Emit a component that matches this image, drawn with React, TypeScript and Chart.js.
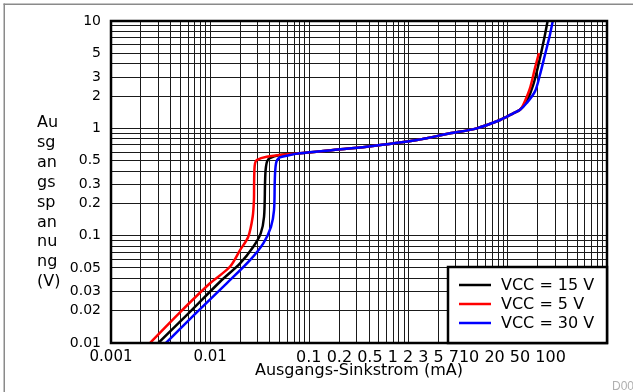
import React, { useEffect, useRef } from 'react';
import { Chart, registerables } from 'chart.js';

Chart.register(...registerables);

const FONT = "'DejaVu Sans', 'Liberation Sans', sans-serif";

const seriesLabels = ['VCC = 15 V', 'VCC = 5 V', 'VCC = 30 V'];
const seriesColors = ['#000000', '#ff0000', '#0000ff'];

// VCC = 15 V (black)
const sinkCurrent15 = [0.003, 0.00626, 0.01256, 0.02, 0.0272, 0.0323, 0.0349, 0.0357, 0.036, 0.0365, 0.0374, 0.0394, 0.0505, 0.0804, 0.174, 0.378, 1.21, 2.61, 4.86, 8.35, 11.36, 13.27, 15.5, 18.07, 21.1, 23.7, 25.2];
const outVoltage15 = [0.01, 0.0195, 0.0372, 0.0552, 0.0788, 0.105, 0.15, 0.307, 0.38, 0.439, 0.49, 0.525, 0.564, 0.585, 0.628, 0.674, 0.778, 0.898, 1.0, 1.195, 1.38, 1.49, 1.785, 2.55, 4.52, 7.45, 10];

// VCC = 5 V (red)
const sinkCurrent5 = [0.00247, 0.00496, 0.00996, 0.0158, 0.02, 0.0242, 0.0268, 0.0276, 0.0277, 0.0279, 0.0283, 0.0294, 0.0371, 0.0637, 0.0804, 0.174, 0.378, 1.21, 2.61, 4.86, 8.35, 11.36, 13.27, 14.33, 16.74, 18.8, 20.6];
const outVoltage5 = [0.01, 0.0193, 0.036, 0.0513, 0.0734, 0.0977, 0.15, 0.215, 0.3, 0.409, 0.47, 0.506, 0.544, 0.576, 0.585, 0.628, 0.674, 0.778, 0.898, 1.0, 1.195, 1.38, 1.49, 1.66, 2.37, 3.65, 5.03];

// VCC = 30 V (blue)
const sinkCurrent30 = [0.00358, 0.00731, 0.01466, 0.0252, 0.0343, 0.041, 0.044, 0.0447, 0.0452, 0.0461, 0.0475, 0.0505, 0.0637, 0.0804, 0.174, 0.378, 1.21, 2.61, 4.86, 8.35, 11.36, 13.27, 15.5, 18.8, 21.1, 23.7, 26.6, 28.4];
const outVoltage30 = [0.01, 0.0193, 0.036, 0.0592, 0.0848, 0.121, 0.173, 0.307, 0.4, 0.472, 0.51, 0.537, 0.564, 0.585, 0.628, 0.674, 0.778, 0.898, 1.0, 1.195, 1.38, 1.49, 1.72, 2.21, 3.16, 4.85, 7.45, 10];

const xMin = 0.001;
const xMax = 100;
const yMin = 0.01;
const yMax = 10;

const xTickValues = [0.001, 0.01, 1.68];
const xTickLabels = ['0.001', '0.01', '0.1 0.2 0.5 1 2 3 5 710 20 50 100'];
const yTickLabels = ['0.01', '0.02', '0.03', '0.05', '0.1', '0.2', '0.3', '0.5', '1', '2', '3', '5', '10'];
const yAxisTitleLines = ['Au', 'sg', 'an', 'gs', 'sp', 'an', 'nu', 'ng', '(V)'];
const xAxisTitle = 'Ausgangs-Sinkstrom (mA)';
const footnote = 'D001';

const GRID = '#1a1a1a';

function logGridValues(min: number, max: number): number[] {
  const out: number[] = [];
  const e0 = Math.round(Math.log10(min));
  const e1 = Math.round(Math.log10(max));
  for (let e = e0; e < e1; e++) {
    for (let m = 1; m < 10; m++) out.push(Number((m * Math.pow(10, e)).toPrecision(8)));
  }
  out.push(Number(Math.pow(10, e1).toPrecision(8)));
  return out;
}

const near = (a: number, b: number) => Math.abs(a - b) <= 1e-9 * Math.max(Math.abs(a), Math.abs(b));

function buildXTicks() {
  const ticks: any[] = logGridValues(xMin, xMax).map((v) => ({ value: v, grid: true, txt: '' }));
  xTickValues.forEach((v, i) => {
    const t = ticks.find((k) => near(k.value, v));
    if (t) t.txt = xTickLabels[i];
    else ticks.push({ value: v, grid: false, txt: xTickLabels[i], big: true });
  });
  ticks.sort((a, b) => a.value - b.value);
  return ticks;
}

function buildYTicks() {
  return logGridValues(yMin, yMax).map((v) => {
    const lbl = yTickLabels.find((l) => near(Number(l), v));
    return { value: v, grid: true, txt: lbl || '' };
  });
}

const toPoints = (xs: number[], ys: number[]) => xs.map((x, i) => ({ x, y: ys[i] }));

const decorPlugin = {
  id: 'decor',
  beforeDraw(chart: any) {
    const ctx = chart.ctx;
    ctx.save();
    ctx.fillStyle = '#ffffff';
    ctx.fillRect(0, 0, chart.width, chart.height);
    ctx.fillStyle = '#8a8a8a';
    ctx.fillRect(3.5, 3.5, chart.width, 1.5);
    ctx.fillRect(3.5, 3.5, 1.5, chart.height);
    ctx.restore();
  },
  afterDraw(chart: any) {
    const ctx = chart.ctx;
    const a = chart.chartArea;
    ctx.save();
    ctx.strokeStyle = '#000';
    ctx.lineWidth = 2.5;
    ctx.strokeRect(a.left, a.top, a.right - a.left, a.bottom - a.top);

    ctx.fillStyle = '#000';
    ctx.font = `16px ${FONT}`;
    ctx.textAlign = 'left';
    ctx.textBaseline = 'alphabetic';
    yAxisTitleLines.forEach((t, i) => {
      ctx.fillText(t, 37, 127 + i * 19.9);
    });

    const bw = 159;
    const bh = 76;
    const bx = a.right - bw;
    const by = a.bottom - bh;
    ctx.fillStyle = '#fff';
    ctx.fillRect(bx, by, bw, bh);
    ctx.strokeStyle = '#000';
    ctx.lineWidth = 2.5;
    ctx.strokeRect(bx, by, bw, bh);
    chart.data.datasets.forEach((ds: any, i: number) => {
      const y = by + 18 + i * 19;
      ctx.strokeStyle = ds.borderColor;
      ctx.lineWidth = 2.5;
      ctx.beginPath();
      ctx.moveTo(bx + 11, y);
      ctx.lineTo(bx + 43, y);
      ctx.stroke();
      ctx.fillStyle = '#000';
      ctx.font = `16px ${FONT}`;
      ctx.textBaseline = 'middle';
      ctx.fillText(ds.label, bx + 53, y + 1);
    });

    ctx.fillStyle = '#b0b0b0';
    ctx.font = `12px 'Liberation Sans', sans-serif`;
    ctx.textBaseline = 'alphabetic';
    ctx.fillText(footnote, 612, 390);
    ctx.restore();
  },
};

export default function App() {
  const canvasRef = useRef<HTMLCanvasElement | null>(null);

  useEffect(() => {
    if (!canvasRef.current) return;
    const xs = [sinkCurrent15, sinkCurrent5, sinkCurrent30];
    const ys = [outVoltage15, outVoltage5, outVoltage30];
    const orders = [2, 1, 0];
    const chart = new Chart(canvasRef.current, {
      type: 'scatter',
      data: {
        datasets: seriesLabels.map((label, i) => ({
          label,
          data: toPoints(xs[i], ys[i]),
          borderColor: seriesColors[i],
          backgroundColor: seriesColors[i],
          borderWidth: 2.5,
          showLine: true,
          pointRadius: 0,
          pointHoverRadius: 0,
          tension: 0.3,
          order: orders[i],
        })),
      },
      options: {
        animation: false,
        responsive: true,
        maintainAspectRatio: false,
        events: [],
        layout: { padding: { left: 0, right: 26, top: 21, bottom: 0 } },
        plugins: {
          legend: { display: false },
          tooltip: { enabled: false },
        },
        scales: {
          x: {
            type: 'logarithmic',
            min: xMin,
            max: xMax,
            afterBuildTicks: (s: any) => {
              s.ticks = buildXTicks();
            },
            afterFit: (s: any) => {
              s.height = 49;
            },
            border: { display: false },
            grid: {
              drawTicks: false,
              lineWidth: 1,
              color: (c: any) => (c.tick && c.tick.grid === false ? 'rgba(0,0,0,0)' : GRID),
            },
            ticks: {
              autoSkip: false,
              maxRotation: 0,
              minRotation: 0,
              padding: 5,
              color: '#000',
              font: (c: any) => ({ family: FONT, size: c.tick && c.tick.big ? 16 : 15 }),
              callback: (_v: any, i: number, ticks: any[]) => ticks[i].txt || '',
            },
            title: {
              display: true,
              text: xAxisTitle,
              color: '#000',
              font: { family: FONT, size: 16 },
              padding: { top: 0, bottom: 12 },
            },
          },
          y: {
            type: 'logarithmic',
            min: yMin,
            max: yMax,
            afterBuildTicks: (s: any) => {
              s.ticks = buildYTicks();
            },
            afterFit: (s: any) => {
              s.width = 111;
            },
            border: { display: false },
            grid: { drawTicks: false, lineWidth: 1, color: GRID },
            ticks: {
              autoSkip: false,
              padding: 10,
              color: '#000',
              font: { family: FONT, size: 14 },
              callback: (_v: any, i: number, ticks: any[]) => ticks[i].txt || '',
            },
          },
        },
      } as any,
      plugins: [decorPlugin],
    });
    return () => chart.destroy();
  }, []);

  return (
    <div style={{ position: 'fixed', left: 0, top: 0, width: 633, height: 392, background: '#fff' }}>
      <canvas ref={canvasRef} />
    </div>
  );
}
